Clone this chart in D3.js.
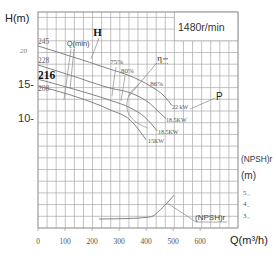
<!DOCTYPE html>
<html lang="en">
<head>
<meta charset="utf-8">
<title>Pump curve</title>
<script src="https://cdn.jsdelivr.net/npm/d3@7"></script>
<style>
  body { margin: 0; background: #fff; }
  svg { display: block; }
  .grid line { stroke: #a8a8a8; stroke-width: 0.7; }
  .curve { fill: none; stroke: #777; stroke-width: 0.9; }
  .lead { fill: none; stroke: #888; stroke-width: 0.7; }
  .serif { font-family: "Liberation Serif", "DejaVu Serif", serif; }
  .sans { font-family: "Liberation Sans", Arial, sans-serif; }
</style>
</head>
<body>
<div id="chart"></div>
<script>
// impeller diameters and their H-Q curves (Q in m3/h, H in m)
var diameters = ["245", "228", "216", "208"]
var motorPower = ["22 kW", "18.5KW", "18.5KW", "15KW"]
var curveQ = [
  [0, 80, 190, 265, 340, 415, 470, 496],
  [0, 119, 267, 341, 415, 452, 474],
  [0, 119, 267, 341, 396, 441],
  [0, 119, 267, 341, 400]
]
var curveH = [
  [20.6, 19.6, 18.2, 17.2, 16.2, 14.7, 13.1, 11.8],
  [17.8, 16.3, 14.4, 13.7, 12.1, 10.7, 9.9],
  [15.7, 14.4, 12.6, 11.5, 10.1, 8.1],
  [14.7, 13.4, 11.2, 9.7, 6.8]
]
// efficiency lines
var effLabels = ["75%", "80%", "86%"]
var effQ = [[289, 281, 274], [322, 315, 307], [374, 337, 330, 356, 407]]
var effH = [[17.5, 15.6, 13.2], [16.3, 14.4, 12.5], [15.0, 13.4, 11.2, 9.6, 8.5]]
// NPSHr curve
var npshQ = [226, 341, 415, 459, 481, 504]
var npshV = [2.65, 2.7, 2.83, 3.6, 4.13, 4.74]
// axis ticks
var qTicks = [0, 100, 200, 300, 400, 500, 600]
var npshTicks = [5, 4, 3]

var W = 276, H = 261
var svg = d3.select("#chart").append("svg").attr("width", W).attr("height", H)

var x = d3.scaleLinear().domain([0, 740]).range([38, 238])
var y = d3.scaleLinear().domain([-6.18, 25.59]).range([228, 12])
var yN = d3.scaleLinear().domain([1.87, 20.65]).range([228, 12])

// grid
var g = svg.append("g").attr("class", "grid")
var vx = d3.range(0, 23).map(function(i){ return 38 + i * 200 / 22 })
g.selectAll(".v").data(vx).enter().append("line")
  .attr("x1", function(d){ return d }).attr("x2", function(d){ return d })
  .attr("y1", 12).attr("y2", 228)
var hy = d3.range(0, 19).map(function(i){ return 228 - i * 11.7 })
g.selectAll(".h").data(hy).enter().append("line")
  .attr("x1", 38).attr("x2", 238)
  .attr("y1", function(d){ return d }).attr("y2", function(d){ return d })
g.append("line").attr("x1", 38).attr("x2", 238).attr("y1", 12).attr("y2", 12)

// speed box
svg.append("rect").attr("x", vx[15]).attr("y", 12).attr("width", 238 - vx[15]).attr("height", hy[16] - 12)
  .attr("fill", "#fff").attr("stroke", "#a8a8a8").attr("stroke-width", 0.7)
svg.append("text").attr("class", "sans").attr("x", 178).attr("y", 31)
  .attr("font-size", 10.5).attr("fill", "#333").text("1480r/min")

// x ticks
svg.selectAll(".xt").data(qTicks).enter().append("text")
  .attr("class", "serif").attr("x", function(d){ return x(d) }).attr("y", 244)
  .attr("text-anchor", "middle").attr("font-size", 7.5).attr("fill", "#555")
  .text(function(d){ return d })
svg.selectAll(".xk").data(qTicks).enter().append("line")
  .attr("x1", function(d){ return x(d) }).attr("x2", function(d){ return x(d) })
  .attr("y1", 228).attr("y2", 231).attr("stroke", "#999").attr("stroke-width", 0.7)

// y labels
svg.append("text").attr("class", "serif").attr("x", 27).attr("y", y(20) + 2.5)
  .attr("text-anchor", "end").attr("font-size", 7).attr("font-style", "italic").attr("fill", "#777").text("20")
svg.append("text").attr("class", "sans").attr("x", 34).attr("y", y(15) + 4)
  .attr("text-anchor", "end").attr("font-size", 11).attr("fill", "#333").text("15-")
svg.append("text").attr("class", "sans").attr("x", 34).attr("y", y(10) + 4)
  .attr("text-anchor", "end").attr("font-size", 11).attr("fill", "#333").text("10-")
svg.append("text").attr("class", "sans").attr("x", 5).attr("y", 22)
  .attr("font-size", 11).attr("fill", "#222").text("H(m)")
svg.append("text").attr("class", "sans").attr("x", 230).attr("y", 244)
  .attr("font-size", 11).attr("fill", "#222").text("Q(m³/h)")

// NPSH axis
svg.append("text").attr("class", "sans").attr("x", 241).attr("y", 162)
  .attr("font-size", 8.3).attr("fill", "#333").text("(NPSH)r")
svg.append("text").attr("class", "sans").attr("x", 241).attr("y", 179)
  .attr("font-size", 10).attr("fill", "#333").text("(m)")
svg.selectAll(".nt").data(npshTicks).enter().append("text")
  .attr("class", "serif").attr("x", 243).attr("y", function(d){ return yN(d) + 2.5 })
  .attr("font-size", 7).attr("fill", "#555").text(function(d){ return d })
svg.selectAll(".nk").data(npshTicks).enter().append("line")
  .attr("x1", 247).attr("x2", 250)
  .attr("y1", function(d){ return yN(d) + 3 }).attr("y2", function(d){ return yN(d) + 3 })
  .attr("stroke", "#aaa").attr("stroke-width", 0.6)

// H-Q curves
var line = d3.line().x(function(d){ return x(d[0]) }).y(function(d){ return y(d[1]) }).curve(d3.curveMonotoneX)
var lineFree = d3.line().x(function(d){ return x(d[0]) }).y(function(d){ return y(d[1]) }).curve(d3.curveCatmullRom)
curveQ.forEach(function(qs, i){
  var pts = qs.map(function(q, j){ return [q, curveH[i][j]] })
  svg.append("path").attr("class", "curve").attr("d", line(pts))
})

// efficiency lines
effQ.forEach(function(qs, i){
  var pts = qs.map(function(q, j){ return [q, effH[i][j]] })
  svg.append("path").attr("class", "lead").attr("d", lineFree(pts))
})

// NPSH curve
var lineN = d3.line().x(function(d){ return x(d[0]) }).y(function(d){ return yN(d[1]) }).curve(d3.curveMonotoneX)
svg.append("path").attr("class", "curve")
  .attr("d", lineN(npshQ.map(function(q, j){ return [q, npshV[j]] })))

// leader lines (data units)
function lead(pts, sc){
  svg.append("path").attr("class", "lead")
    .attr("d", d3.line().x(function(d){ return x(d[0]) }).y(function(d){ return (sc || y)(d[1]) })(pts))
}
lead([[226, 21.76], [196, 18.68]])
lead([[122, 20.15], [96, 12.65]])
lead([[133, 20.15], [119, 14.41]])
lead([[437, 18.0], [337, 13.24]])
lead([[656, 12.94], [563, 11.32]])
lead([[478, 4.04], [585, 2.39], [700, 2.39]], yN)

// curve labels
var dLabY = [21.32, 18.53, 16.32, 14.41]
diameters.forEach(function(d, i){
  var big = d === "216"
  svg.append("text").attr("class", "serif").attr("x", x(0))
    .attr("y", y(dLabY[i]) + (big ? 4 : 2.5))
    .attr("font-size", big ? 11.5 : 7.5).attr("font-weight", big ? "bold" : "normal")
    .attr("fill", big ? "#111" : "#666").text(d)
})
var pLab = [[496, 11.62], [474, 9.71], [444, 7.94], [407, 6.62]]
motorPower.forEach(function(t, i){
  svg.append("text").attr("class", "serif").attr("x", x(pLab[i][0])).attr("y", y(pLab[i][1]) + 2)
    .attr("font-size", 6).attr("fill", "#555").text(t)
})
var eLab = [[267, 18.24], [307, 16.91], [415, 15.0]]
effLabels.forEach(function(t, i){
  svg.append("text").attr("class", "serif").attr("x", x(eLab[i][0])).attr("y", y(eLab[i][1]) + 2.3)
    .attr("font-size", 7).attr("fill", "#555").text(t)
})
svg.append("text").attr("class", "sans").attr("x", x(106)).attr("y", y(21.03) + 2.6)
  .attr("font-size", 7.5).attr("fill", "#444").text("Q(min)")
svg.append("text").attr("class", "serif").attr("x", x(204)).attr("y", y(22.65) + 3.8)
  .attr("font-size", 11).attr("font-weight", "bold").attr("fill", "#111").text("H")
svg.append("text").attr("class", "serif").attr("x", x(441)).attr("y", y(18.82) + 2.5)
  .attr("font-size", 9).attr("fill", "#222").text("η")
svg.append("line").attr("x1", x(462)).attr("x2", x(481)).attr("y1", y(18.7)).attr("y2", y(18.7))
  .attr("stroke", "#444").attr("stroke-width", 0.8)
svg.append("line").attr("x1", x(437)).attr("x2", x(481)).attr("y1", y(18.0)).attr("y2", y(18.0))
  .attr("stroke", "#d33").attr("stroke-width", 0.8).attr("stroke-dasharray", "1,1.2")
svg.append("text").attr("class", "sans").attr("x", x(659)).attr("y", y(13.24) + 3.6)
  .attr("font-size", 10).attr("fill", "#222").text("P")
svg.append("text").attr("class", "sans").attr("x", x(581)).attr("y", yN(2.83) + 2.8)
  .attr("font-size", 8).attr("fill", "#444").text("(NPSH)r")

// frame
svg.append("rect").attr("x", 38).attr("y", 12).attr("width", 200).attr("height", 216)
  .attr("fill", "none").attr("stroke", "#999").attr("stroke-width", 0.8)
</script>
</body>
</html>
